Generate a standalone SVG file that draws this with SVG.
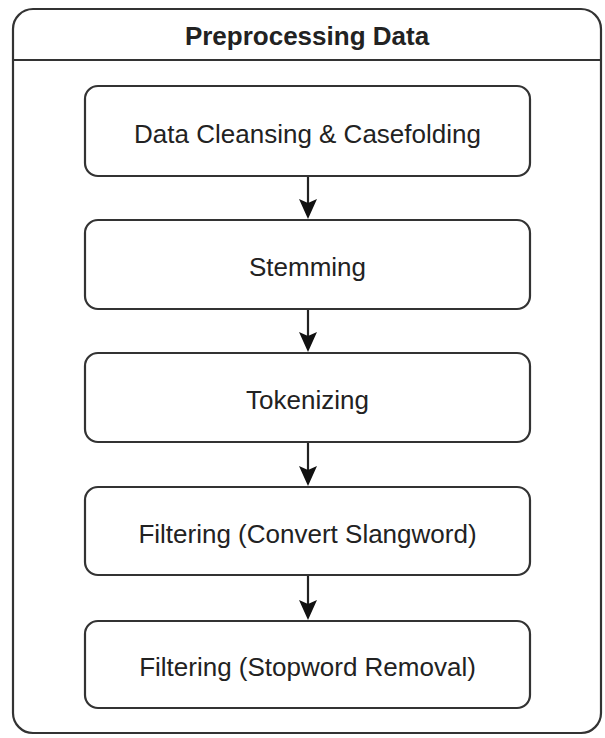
<svg xmlns="http://www.w3.org/2000/svg" width="605" height="738" viewBox="0 0 605 738">
<style>
.box{fill:#fff;stroke:#333;stroke-width:2.2}
.lbl{font-family:"Liberation Sans",Arial,sans-serif;font-size:26px;fill:#222;text-anchor:middle}
.ttl{font-family:"Liberation Sans",Arial,sans-serif;font-size:26px;font-weight:bold;fill:#222;text-anchor:middle}
.edge{stroke:#222;stroke-width:2.2;fill:none}
.head{fill:#111}
</style>
<rect width="605" height="738" fill="#fff"/>
<g id="container">
<rect x="13" y="9" width="588" height="724" rx="20" ry="20" class="box"/>
<line x1="13" y1="60" x2="601" y2="60" stroke="#333" stroke-width="2.2"/>
<text x="307" y="45" class="ttl">Preprocessing Data</text>
</g>
<g id="n1"><rect x="85" y="86" width="445" height="90" rx="13" class="box"/><text x="307.5" y="143" class="lbl">Data Cleansing &amp; Casefolding</text></g>
<g id="n2"><rect x="85" y="220" width="445" height="89" rx="13" class="box"/><text x="307.5" y="276" class="lbl">Stemming</text></g>
<g id="n3"><rect x="85" y="353" width="445" height="89" rx="13" class="box"/><text x="307.5" y="409" class="lbl">Tokenizing</text></g>
<g id="n4"><rect x="85" y="487" width="445" height="88" rx="13" class="box"/><text x="307.5" y="543" class="lbl">Filtering (Convert Slangword)</text></g>
<g id="n5"><rect x="85" y="621" width="445" height="87" rx="13" class="box"/><text x="307.5" y="676" class="lbl">Filtering (Stopword Removal)</text></g>
<g id="edges">
<line x1="308" y1="177" x2="308" y2="205" class="edge"/>
<polygon class="head" points="299,199 308,203 317,199 308,219"/>
<line x1="308" y1="310" x2="308" y2="338" class="edge"/>
<polygon class="head" points="299,332 308,336 317,332 308,352"/>
<line x1="308" y1="443" x2="308" y2="472" class="edge"/>
<polygon class="head" points="299,466 308,470 317,466 308,486"/>
<line x1="308" y1="576" x2="308" y2="606" class="edge"/>
<polygon class="head" points="299,600 308,604 317,600 308,620"/>
</g>
</svg>
